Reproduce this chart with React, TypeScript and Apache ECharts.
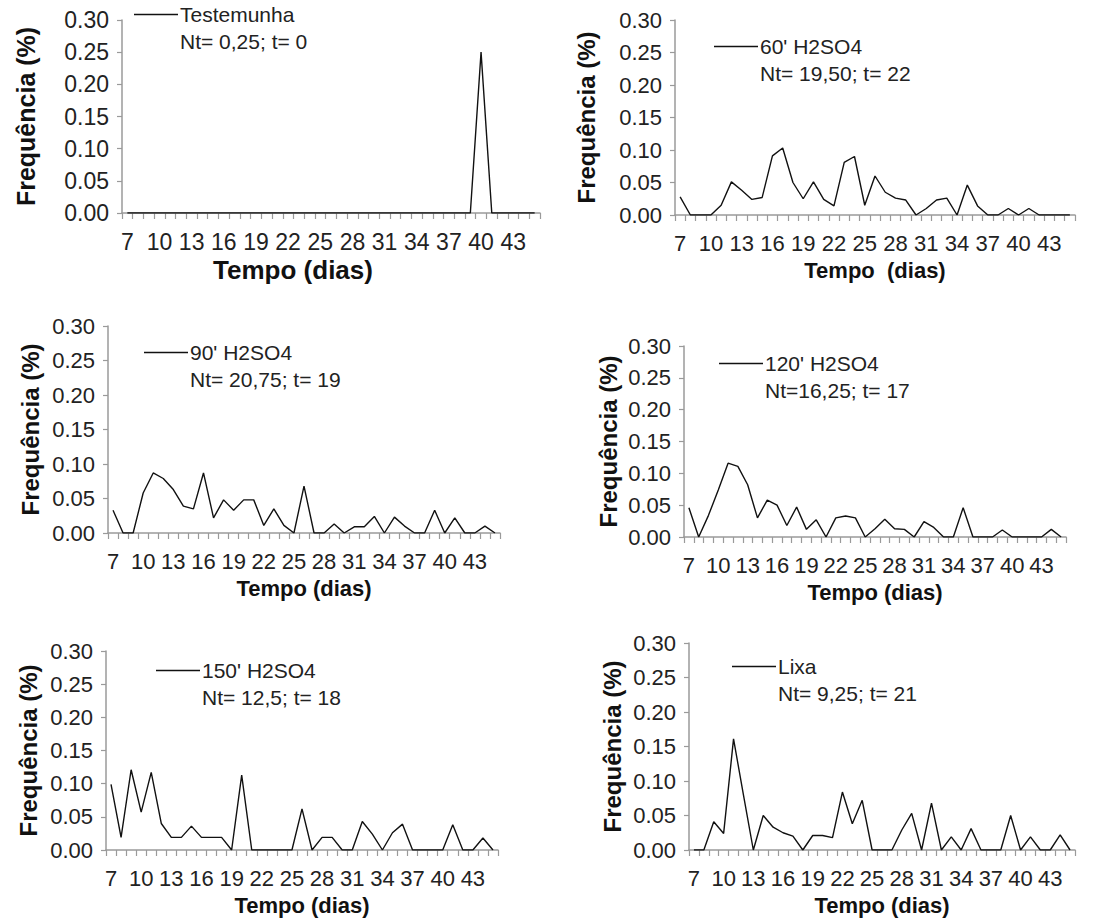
import React, { useEffect, useRef } from "react";
import * as echarts from "echarts";

const days = ["7","8","9","10","11","12","13","14","15","16","17","18","19","20","21","22","23","24","25","26","27","28","29","30","31","32","33","34","35","36","37","38","39","40","41","42","43","44","45"];

const testemunha = [0,0,0,0,0,0,0,0,0,0,0,0,0,0,0,0,0,0,0,0,0,0,0,0,0,0,0,0,0,0,0,0,0,0.25,0,0,0,0,0];
const h60 = [0.028,0,0,0,0.015,0.051,0.038,0.024,0.027,0.091,0.103,0.05,0.025,0.051,0.024,0.014,0.081,0.09,0.015,0.06,0.035,0.026,0.023,0,0.01,0.023,0.026,0,0.046,0.014,0,0,0.01,0,0.01,0,0,0,0];
const h90 = [0.033,0,0,0.058,0.087,0.079,0.063,0.039,0.035,0.087,0.022,0.048,0.033,0.048,0.048,0.011,0.035,0.011,0,0.068,0,0,0.013,0,0.009,0.009,0.024,0,0.023,0.01,0,0,0.033,0,0.022,0,0,0.01,0];
const h120 = [0.046,0,0.034,0.074,0.116,0.111,0.082,0.03,0.058,0.05,0.018,0.047,0.012,0.027,0,0.03,0.033,0.03,0,0.013,0.028,0.013,0.012,0,0.024,0.015,0,0,0.046,0,0,0,0.011,0,0,0,0,0.012,0];
const h150 = [0.099,0.019,0.121,0.057,0.117,0.04,0.019,0.019,0.036,0.019,0.019,0.019,0,0.113,0,0,0,0,0,0.062,0,0.019,0.019,0,0,0.043,0.024,0,0.026,0.039,0,0,0,0,0.038,0,0,0.018,0];
const lixa = [0,0,0.041,0.024,0.161,0.08,0,0.05,0.033,0.025,0.02,0,0.021,0.021,0.018,0.084,0.038,0.072,0,0,0,0.029,0.053,0,0.068,0,0.019,0,0.031,0,0,0,0.05,0,0.019,0,0,0.022,0];

const seriesNames = ["Testemunha", "60' H2SO4", "90' H2SO4", "120' H2SO4", "150' H2SO4", "Lixa"];
const seriesData = [testemunha, h60, h90, h120, h150, lixa];
const ntLabels = ["Nt= 0,25; t= 0", "Nt= 19,50; t= 22", "Nt= 20,75; t= 19", "Nt=16,25; t= 17", "Nt= 12,5; t= 18", "Nt= 9,25; t= 21"];
const xTitles = ["Tempo (dias)", "Tempo  (dias)", "Tempo (dias)", "Tempo (dias)", "Tempo (dias)", "Tempo (dias)"];
const yTitle = "Frequência (%)";
const yTicks = [0, 0.3, 0.05];

// layout: [left, top, width, height]
const gridBoxes = [
  [122, 20, 418, 193],
  [675, 20, 400, 195],
  [108, 326, 392, 207],
  [684, 346, 382, 191],
  [106, 651, 392, 199],
  [689, 643, 386, 207],
];
const yNameGaps = [84, 77, 66, 64, 66, 65];
const tickFont = [23, 22, 22, 22, 22, 22];
const yNameFont = [25, 24, 24, 24, 24, 24];
const xNameFont = [26, 22, 22, 22, 22, 22];
const xNameShift = [76, 0, 0, 0, 0, 0];
// legend text start x and center y
const legendPos = [
  [180, 16],
  [760, 48],
  [190, 354],
  [765, 365],
  [202, 672],
  [778, 668],
];
const LINE_W = 44;

const FONT = "'Liberation Sans', Arial, Helvetica, sans-serif";

export default function App() {
  const ref = useRef<HTMLDivElement>(null);
  useEffect(() => {
    if (!ref.current) return;
    const chart = echarts.init(ref.current, null, { renderer: "svg" });
    const grid = gridBoxes.map(([l, t, w, h]) => ({ left: l, top: t, width: w, height: h, containLabel: false }));
    const xAxis = gridBoxes.map((_, i) => ({
      gridIndex: i,
      type: "category",
      data: days,
      boundaryGap: true,
      axisLine: { show: true, lineStyle: { color: "#9a9a9a", width: 1.5 } },
      axisTick: { show: true, interval: 0, length: 6, lineStyle: { color: "#9a9a9a", width: 1.2 } },
      axisLabel: { interval: 2, fontSize: tickFont[i], color: "#222", margin: 17, fontFamily: FONT },
      splitLine: { show: false },
      name: xTitles[i],
      nameLocation: "middle",
      nameGap: 44,
      nameTextStyle: {
        fontSize: xNameFont[i],
        fontWeight: "bold",
        color: "#111",
        fontFamily: FONT,
        padding: [0, xNameShift[i], 0, 0],
      },
    }));
    const yAxis = gridBoxes.map((_, i) => ({
      gridIndex: i,
      type: "value",
      min: yTicks[0],
      max: yTicks[1],
      interval: yTicks[2],
      axisLine: { show: true, lineStyle: { color: "#9a9a9a", width: 1.5 } },
      axisTick: { show: true, length: 5, lineStyle: { color: "#9a9a9a", width: 1.2 } },
      splitLine: { show: false },
      axisLabel: { formatter: (v: number) => v.toFixed(2), fontSize: tickFont[i], color: "#222", margin: 13, fontFamily: FONT },
      name: yTitle,
      nameLocation: "middle",
      nameGap: yNameGaps[i],
      nameRotate: 90,
      nameTextStyle: { fontSize: yNameFont[i], fontWeight: "bold", color: "#111", fontFamily: FONT },
    }));
    const series = seriesData.map((d, i) => ({
      type: "line",
      name: seriesNames[i],
      xAxisIndex: i,
      yAxisIndex: i,
      data: d,
      symbol: "none",
      showSymbol: false,
      color: "#111",
      lineStyle: { color: "#111", width: 1.4 },
    }));
    const legend = seriesNames.map((n, i) => ({
      data: [n],
      left: legendPos[i][0] - LINE_W - 2,
      top: legendPos[i][1] - 12,
      icon: "rect",
      itemWidth: LINE_W,
      itemHeight: 1.5,
      itemGap: 4,
      padding: 0,
      selectedMode: false,
      textStyle: { fontSize: 21, color: "#222", fontFamily: FONT, padding: [0, 0, 0, -3] },
    }));
    const graphic = ntLabels.map((t, i) => ({
      type: "text",
      left: legendPos[i][0],
      top: legendPos[i][1] + 15,
      style: { text: t, fontSize: 21, fill: "#222", fontFamily: FONT },
    }));
    chart.setOption({
      animation: false,
      backgroundColor: "#fff",
      grid,
      xAxis,
      yAxis,
      series,
      legend,
      graphic,
    });
    return () => chart.dispose();
  }, []);
  return (
    <div
      ref={ref}
      style={{ position: "absolute", left: 0, top: 0, width: 1120, height: 919, background: "#fff" }}
    />
  );
}
